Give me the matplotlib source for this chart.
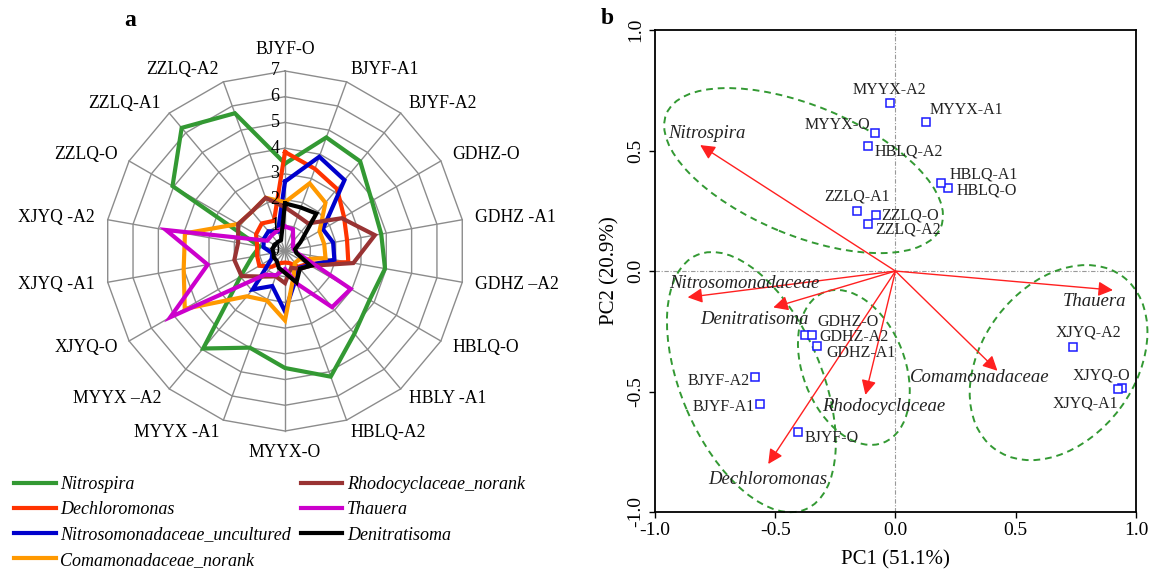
import matplotlib
matplotlib.use('Agg')
import matplotlib.pyplot as plt
from matplotlib.patches import Ellipse
import numpy as np

plt.rcParams['font.family'] = ['Liberation Serif', 'DejaVu Serif']
plt.rcParams['axes.unicode_minus'] = False

# ---- panel a: relative abundance of the main genera at each site ----
sites = ['BJYF-O', 'BJYF-A1', 'BJYF-A2', 'GDHZ-O', 'GDHZ -A1', 'GDHZ \u2013A2',
         'HBLQ-O', 'HBLY -A1', 'HBLQ-A2', 'MYYX-O', 'MYYX -A1', 'MYYX \u2013A2',
         'XJYQ-O', 'XJYQ -A1', 'XJYQ -A2', 'ZZLQ-O', 'ZZLQ-A1', 'ZZLQ-A2']

nitrospira = [3.4, 4.7, 4.55, 3.9, 3.8, 3.95, 3.8, 4.2, 5.2, 4.55, 4.0, 4.95, 2.0, 1.3, 1.0, 5.05, 6.25, 5.7]
dechloromonas = [3.85, 3.4, 3.15, 2.65, 2.45, 2.5, 1.0, 0.8, 0.5, 0.45, 0.5, 0.8, 1.15, 1.1, 1.1, 1.3, 1.4, 1.25]
nitrosomonadaceae = [2.7, 3.9, 3.6, 1.7, 1.9, 1.95, 1.1, 0.85, 1.2, 2.35, 1.45, 1.95, 0.6, 0.5, 0.85, 0.95, 1.0, 0.8]
comamonadaceae = [1.9, 2.8, 2.45, 1.55, 1.55, 1.6, 0.65, 0.6, 1.0, 2.7, 2.05, 2.3, 4.5, 4.0, 3.95, 2.1, 2.0, 2.2]
rhodocyclaceae = [1.7, 1.45, 1.4, 2.55, 3.55, 2.7, 1.15, 0.9, 0.7, 1.25, 1.05, 1.3, 1.95, 2.0, 1.85, 2.1, 2.0, 2.2]
thauera = [0.95, 0.9, 0.5, 0.35, 0.35, 0.5, 2.95, 2.85, 1.35, 0.7, 1.0, 1.2, 5.15, 3.05, 4.7, 0.8, 0.8, 0.85]
denitratisoma = [1.85, 1.8, 1.9, 0.7, 0.4, 0.45, 1.15, 0.9, 1.3, 0.85, 0.7, 0.5, 0.5, 0.45, 0.5, 0.45, 0.45, 0.45]

series_names = ['Nitrospira', 'Dechloromonas', 'Nitrosomonadaceae_uncultured',
                'Comamonadaceae_norank', 'Rhodocyclaceae_norank', 'Thauera', 'Denitratisoma']
series_values = [nitrospira, dechloromonas, nitrosomonadaceae, comamonadaceae,
                 rhodocyclaceae, thauera, denitratisoma]
series_colors = ['#339933', '#ff3300', '#0000cc', '#ff9900', '#993333', '#cc00cc', '#000000']

radar_ticks = [0, 1, 2, 3, 4, 5, 6, 7]

# ---- panel b: PCA ----
samples = ['BJYF-O', 'BJYF-A1', 'BJYF-A2', 'GDHZ-O', 'GDHZ-A1', 'GDHZ-A2',
           'HBLQ-O', 'HBLQ-A1', 'HBLQ-A2', 'MYYX-O', 'MYYX-A1', 'MYYX-A2',
           'XJYQ-O', 'XJYQ-A1', 'XJYQ-A2', 'ZZLQ-O', 'ZZLQ-A1', 'ZZLQ-A2']
pc1 = [-0.407, -0.564, -0.582, -0.375, -0.328, -0.348, 0.217, 0.188, -0.115,
       -0.086, 0.126, -0.024, 0.943, 0.925, 0.738, -0.083, -0.159, -0.115]
pc2 = [-0.667, -0.552, -0.441, -0.267, -0.311, -0.264, 0.344, 0.365, 0.519,
       0.574, 0.617, 0.698, -0.484, -0.491, -0.314, 0.231, 0.250, 0.196]

taxa = ['Nitrospira', 'Nitrosomonadaceae', 'Denitratisoma', 'Dechloromonas',
        'Rhodocyclaceae', 'Comamonadaceae', 'Thauera']
load_pc1 = [-0.812, -0.864, -0.508, -0.529, -0.125, 0.424, 0.904]
load_pc2 = [0.523, -0.109, -0.151, -0.801, -0.514, -0.414, -0.079]

# cluster ellipses: centre x, centre y, width, height, angle
ell_x = [-0.382, -0.599, -0.173, 0.678]
ell_y = [0.417, -0.461, -0.400, -0.380]
ell_w = [1.234, 1.148, 0.671, 0.892]
ell_h = [0.539, 0.584, 0.424, 0.637]
ell_angle = [-22.4, -66.8, -68.5, 53.2]

# label offsets in pixels (dx, dy, ha)
sample_offsets = {
    'BJYF-O': (7, -6, 'left'), 'BJYF-A1': (-5, -3, 'right'), 'BJYF-A2': (-6, -4, 'right'),
    'GDHZ-O': (12, 13, 'left'), 'GDHZ-A2': (8, -2, 'left'), 'GDHZ-A1': (10, -7, 'left'),
    'HBLQ-O': (9, -2, 'left'), 'HBLQ-A1': (9, 9, 'left'), 'HBLQ-A2': (7, -5, 'left'),
    'MYYX-O': (-5, 8, 'right'), 'MYYX-A1': (4, 12, 'left'), 'MYYX-A2': (0, 13, 'center'),
    'XJYQ-O': (-21, 12, 'center'), 'XJYQ-A1': (-33, -14, 'center'), 'XJYQ-A2': (15, 14, 'center'),
    'ZZLQ-O': (6, 0, 'left'), 'ZZLQ-A1': (0, 14, 'center'), 'ZZLQ-A2': (7, -6, 'left'),
}
taxa_offsets = [(-32, 12), (-18, 14), (-73, -12), (-60, -15), (-43, -12), (-88, -7), (-50, -11)]


fig = plt.figure(figsize=(11.51, 5.77), dpi=100)

# ================= radar =================
ax = fig.add_axes([0.0912, 0.253, 0.3128, 0.624], projection='polar')
ax.set_theta_zero_location('N')
ax.set_theta_direction(-1)
ax.set_ylim(0, 7)
ax.grid(False)
ax.spines['polar'].set_visible(False)
ax.patch.set_visible(False)
ax.set_xticks([])
ax.set_yticks([])

n = len(sites)
angles = np.arange(n) * 2 * np.pi / n
closed = np.append(angles, angles[0])

for r in radar_ticks[1:]:
    ax.plot(closed, [r] * (n + 1), color='#8c8c8c', lw=1.0, clip_on=False, zorder=1)
for a in angles:
    ax.plot([a, a], [0, 7], color='#8c8c8c', lw=1.0, clip_on=False, zorder=1)

lines = []
for name, vals, col in zip(series_names, series_values, series_colors):
    ln, = ax.plot(closed, vals + vals[:1], color=col, lw=3.0, label=name,
                  solid_joinstyle='miter', zorder=3, clip_on=False)
    lines.append(ln)

for t in radar_ticks:
    ax.annotate(str(t), xy=(0, t), xytext=(-4, 0), textcoords='offset points',
                ha='right', va='center', fontsize=13, zorder=4)

for a, lab in zip(angles, sites):
    deg = np.degrees(a)
    if deg < 1 or abs(deg - 180) < 1:
        ha = 'center'
    elif deg < 180:
        ha = 'left'
    else:
        ha = 'right'
    va = 'center'
    if deg < 1:
        va = 'bottom'
    elif abs(deg - 180) < 1:
        va = 'top'
    ax.text(a, 7.5, lab, ha=ha, va=va, fontsize=12.7)

fig.legend(handles=lines, loc='upper left', bbox_to_anchor=(0.006, 0.187), ncol=2,
           frameon=False, prop={'style': 'italic', 'size': 13}, handlelength=2.3,
           handletextpad=0.25, labelspacing=0.45, columnspacing=0.55, borderaxespad=0)

fig.text(0.113, 0.965, 'a', fontsize=17, fontweight='bold', ha='center', va='center')
fig.text(0.528, 0.968, 'b', fontsize=17, fontweight='bold', ha='center', va='center')

# ================= PCA biplot =================
bx = fig.add_axes([0.569, 0.1127, 0.418, 0.835])
bx.set_xlim(-1, 1)
bx.set_ylim(-1, 1)
bx.axhline(0, color='#999999', lw=0.8, ls=(0, (4, 1.5, 1, 1.5)), zorder=1)
bx.axvline(0, color='#999999', lw=0.8, ls=(0, (4, 1.5, 1, 1.5)), zorder=1)

for x, y, w, h, ang in zip(ell_x, ell_y, ell_w, ell_h, ell_angle):
    e = Ellipse((x, y), w, h, angle=ang, fill=False, ec='#339933', lw=1.4,
                ls=(0, (3.5, 2.5)), clip_on=False, zorder=2)
    bx.add_patch(e)

for name, x, y, off in zip(taxa, load_pc1, load_pc2, taxa_offsets):
    bx.annotate('', xy=(x, y), xytext=(0, 0),
                arrowprops=dict(arrowstyle='-|>', color='#ff2020', lw=1.0,
                                mutation_scale=22, shrinkA=0, shrinkB=0), zorder=3)
    bx.annotate(name, xy=(x, y), xytext=off, textcoords='offset pixels',
                ha='left', va='center', fontsize=13.5, style='italic', color='#222222')

bx.plot(pc1, pc2, ls='none', marker='s', ms=5.5, mfc='white', mec='#1a1aff', mew=1.1, zorder=4)
for name, x, y in zip(samples, pc1, pc2):
    dx, dy, ha = sample_offsets[name]
    bx.annotate(name, xy=(x, y), xytext=(dx, dy), textcoords='offset pixels',
                ha=ha, va='center', fontsize=11.5, color='#222222', zorder=5)

bx.set_xticks([-1, -0.5, 0, 0.5, 1])
bx.set_yticks([-1, -0.5, 0, 0.5, 1])
bx.set_xticklabels(['%.1f' % v for v in bx.get_xticks()])
bx.set_yticklabels(['%.1f' % v for v in bx.get_yticks()], rotation=90, va='center')
bx.tick_params(direction='out', length=4, width=1, labelsize=14, top=False, right=False)
for s in bx.spines.values():
    s.set_linewidth(1.3)
bx.set_xlabel('PC1 (51.1%)', fontsize=15, labelpad=8)
bx.set_ylabel('PC2 (20.9%)', fontsize=15, labelpad=6)

fig.savefig('out.png', dpi=100)
